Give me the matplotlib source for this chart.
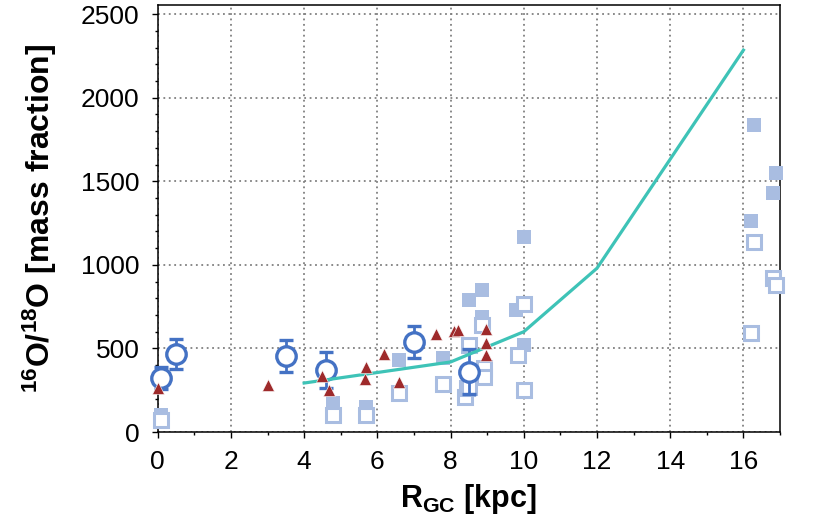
import matplotlib
matplotlib.use("Agg")
import matplotlib.pyplot as plt
from matplotlib.ticker import MultipleLocator

plt.rcParams["font.family"] = ["Liberation Sans", "DejaVu Sans"]
plt.rcParams["mathtext.default"] = "regular"

# open circles with error bars
circ_x = [0.08, 0.5, 3.5, 4.6, 7.0, 8.5]
circ_y = [323, 465, 455, 371, 540, 361]
circ_err = [67, 90, 95, 110, 95, 135]

# filled squares
fsq_x = [0.1, 4.8, 5.7, 6.6, 7.8, 8.5, 8.85, 8.85, 9.8, 10.0, 10.0,
         16.2, 16.3, 16.8, 16.9]
fsq_y = [100, 175, 151, 430, 441, 789, 849, 690, 730, 520, 1164,
         1264, 1836, 1428, 1547]

# open squares
osq_x = [0.1, 4.8, 5.7, 6.6, 7.8, 8.4, 8.45, 8.5, 8.5, 8.85, 8.9, 8.9,
         9.85, 10.0, 10.0, 16.2, 16.3, 16.8, 16.9]
osq_y = [70, 100, 100, 231, 287, 211, 261, 271, 520, 640, 381, 331,
         460, 251, 765, 590, 1138, 919, 879]

# triangles
tri_x = [0.0, 3.0, 4.5, 4.68, 5.67, 5.69, 6.19, 6.6, 7.6, 8.09, 8.2,
         8.98, 8.98, 8.98]
tri_y = [261, 281, 335, 251, 315, 387, 465, 301, 586, 604, 610,
         614, 534, 460]

# model line
line_x = [4, 8, 10, 12, 16]
line_y = [293, 419, 600, 980, 2285]

BLUE = "#4472C4"
LIGHT = "#A9BDE1"
RED = "#9E2A2B"
TEAL = "#3EC3B7"

fig = plt.figure(figsize=(8.3, 5.26), dpi=100)
ax = fig.add_axes([0.190, 0.1787, 0.7498, 0.8118])

ax.plot(fsq_x, fsq_y, "s", ms=10.5, color=LIGHT, mec=LIGHT, mew=0,
        zorder=3, clip_on=False)
ax.plot(osq_x, osq_y, "s", ms=10, mfc="white", mec=LIGHT, mew=2.2,
        zorder=3.5, clip_on=False)
ax.errorbar(circ_x, circ_y, yerr=circ_err, fmt="o", ms=14, mfc="white",
            mec=BLUE, mew=2.4, ecolor=BLUE, elinewidth=2, capsize=5,
            capthick=2, zorder=4, clip_on=False)
ax.plot(line_x, line_y, "-", color=TEAL, lw=2.3, zorder=5)
ax.plot(tri_x, tri_y, "^", ms=9, color=RED, mec="white", mew=0.4,
        zorder=6, clip_on=False)

ax.set_xlim(0, 17)
ax.set_ylim(0, 2555)
ax.set_xticks([0, 2, 4, 6, 8, 10, 12, 14, 16])
ax.set_yticks([0, 500, 1000, 1500, 2000, 2500])
ax.xaxis.set_minor_locator(MultipleLocator(1))
ax.yaxis.set_minor_locator(MultipleLocator(100))
ax.tick_params(which="major", direction="out", length=4, width=1,
               labelsize=19, pad=9)
ax.tick_params(which="minor", direction="out", length=2, width=1)
ax.tick_params(top=False, right=False)

ax.grid(True, which="major", color="#808080", linestyle=(0, (1, 2)),
        linewidth=1.3)
ax.set_axisbelow(True)
for s in ax.spines.values():
    s.set_linewidth(1.1)

ax.set_xlabel("R$_{GC}$ [kpc]", fontsize=22, fontweight="bold",
              labelpad=6)
ax.set_ylabel("$^{16}$O/$^{18}$O [mass fraction]", fontsize=23,
              fontweight="bold", labelpad=16)

fig.savefig("out.png", dpi=100)
